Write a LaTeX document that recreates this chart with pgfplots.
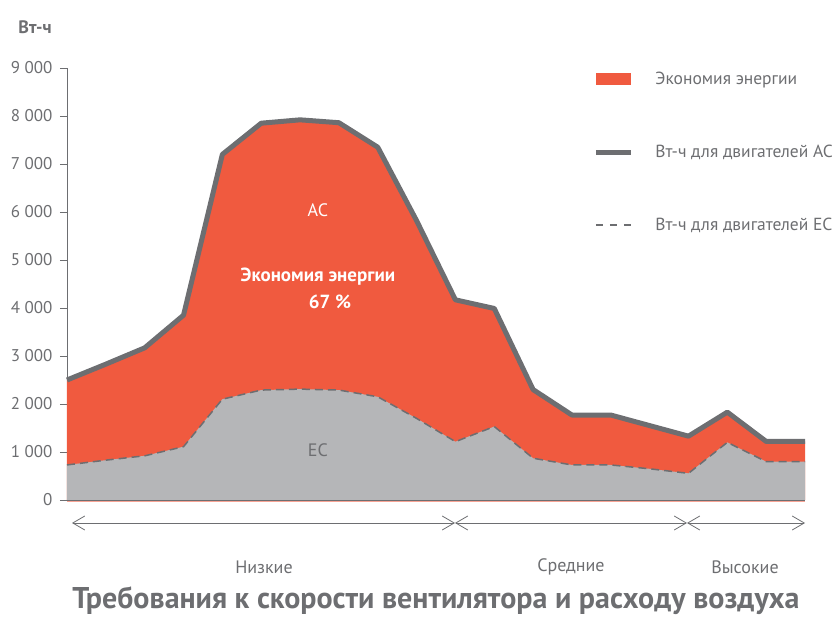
\documentclass[border=0pt]{standalone}
\usepackage{pgfplots}
\pgfplotsset{compat=1.18}
\usepackage{fontspec}
\setmainfont{PT Sans}
\usetikzlibrary{arrows.meta}
\definecolor{savorange}{HTML}{F05A3F}
\definecolor{ecgray}{HTML}{B5B6B8}
\definecolor{linegray}{HTML}{6D6E71}
\definecolor{txtgray}{HTML}{6D6E71}
\pgfplotstableread{
x ac ec
0 2500 730
1 2830 830
2 3170 920
3 3850 1110
4 7200 2100
5 7850 2290
6 7920 2310
7 7860 2290
8 7350 2150
9 5820 1700
10 4170 1215
11 3990 1530
12 2300 870
13 1770 730
14 1770 730
15 1550 650
16 1330 555
17 1830 1200
18 1220 800
19 1220 800
}\datatable
\begin{document}
\begin{tikzpicture}
\useasboundingbox (-67pt,-117pt) rectangle (771pt,500pt);
\begin{axis}[
  scale only axis,
  width=738pt, height=432pt,
  xmin=0, xmax=19, ymin=0, ymax=9000,
  axis x line*=bottom,
  axis y line*=left,
  x axis line style={draw=linegray, line width=1.2pt},
  y axis line style={draw=linegray, line width=0.8pt},
  xtick=\empty,
  ytick={0,1000,...,9000},
  yticklabels={0,{1 000},{2 000},{3 000},{4 000},{5 000},{6 000},{7 000},{8 000},{9 000}},
  tick align=outside,
  major tick length=7pt,
  tick style={draw=linegray, line width=0.8pt},
  y tick label style={font=\fontsize{17}{20}\selectfont, text=txtgray, xshift=-4pt},
  /pgf/number format/assume math mode=true,
  clip=false,
  legend style={at={(rel axis cs:0.709,1.0)}, anchor=north west, draw=none, fill=none,
    font=\fontsize{17.5}{21}\selectfont, text=txtgray, row sep=55pt,
    /tikz/every odd column/.append style={column sep=20pt}},
  legend cell align=left,
]
\addplot[fill=savorange, draw=none,
  legend image code/.code={\fill[savorange] (0pt,-6pt) rectangle (35pt,6pt);}]
  table[x=x,y=ac] {\datatable} \closedcycle;
\addlegendentry{Экономия энергии}
\addplot[fill=ecgray, draw=none, forget plot] table[x=x,y=ec] {\datatable} \closedcycle;
\addplot[draw=linegray, line width=5pt, line join=round,
  legend image code/.code={\draw[linegray, line width=5pt] (0pt,0pt) -- (35pt,0pt);}]
  table[x=x,y=ac] {\datatable};
\addlegendentry{Вт-ч для двигателей AC}
\addplot[draw=linegray, line width=1.5pt, dash pattern=on 8pt off 5pt,
  legend image code/.code={\draw[linegray, line width=1.5pt, dash pattern=on 7pt off 7pt] (0pt,0pt) -- (35pt,0pt);}]
  table[x=x,y=ec] {\datatable};
\addlegendentry{Вт-ч для двигателей EC}
\node[text=white, font=\fontsize{18}{21}\selectfont] at (axis cs:6.46,6040) {AC};
\node[text=white, font=\fontsize{19}{22}\selectfont\bfseries] at (axis cs:6.46,4650) {Экономия энергии};
\node[text=white, font=\fontsize{19}{22}\selectfont\bfseries] at (axis cs:6.77,4130) {67 \%};
\node[text=txtgray, font=\fontsize{18}{21}\selectfont] at (axis cs:6.46,1040) {EC};
\end{axis}
\draw[savorange!55, line width=0.6pt] (0pt,-1.4pt) -- (738pt,-1.4pt);
\begin{scope}[draw=linegray, line width=0.8pt]
\draw[{Straight Barb[length=12pt,width=14pt]}-{Straight Barb[length=12pt,width=14pt]}] (5pt,-23pt) -- (388pt,-23pt);
\draw[{Straight Barb[length=12pt,width=14pt]}-{Straight Barb[length=12pt,width=14pt]}] (388pt,-23pt) -- (620pt,-23pt);
\draw[{Straight Barb[length=12pt,width=14pt]}-{Straight Barb[length=12pt,width=14pt]}] (620pt,-23pt) -- (738pt,-23pt);
\end{scope}
\node[text=txtgray, font=\fontsize{18}{21}\selectfont] at (197pt,-67pt) {Низкие};
\node[text=txtgray, font=\fontsize{18}{21}\selectfont] at (504pt,-67pt) {Средние};
\node[text=txtgray, font=\fontsize{18}{21}\selectfont] at (678pt,-67pt) {Высокие};
\node[text=txtgray, font=\fontsize{30}{34}\selectfont\bfseries, inner sep=0pt, anchor=base] at (369pt,-108.5pt) {Требования к скорости вентилятора и расходу воздуха};
\node[text=txtgray, font=\fontsize{18}{21}\selectfont\bfseries] at (-32pt,473pt) {Вт-ч};
\end{tikzpicture}
\end{document}
